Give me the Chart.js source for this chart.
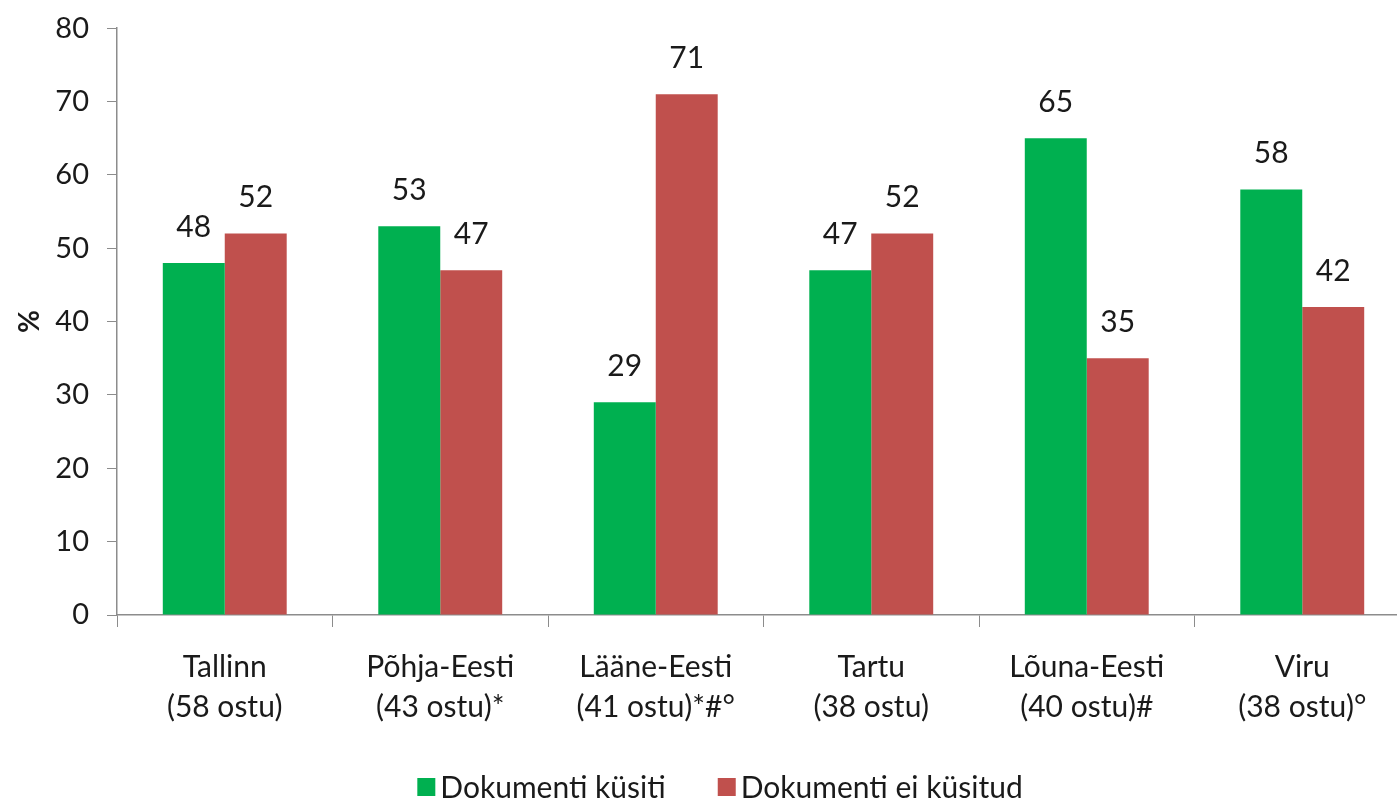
<!DOCTYPE html>
<html>
<head>
<meta charset="utf-8">
<title>Dokumenti küsiti piirkonniti</title>
<script src="https://cdn.jsdelivr.net/npm/chart.js@4.4.1/dist/chart.umd.min.js"></script>
<style>
    html, body { margin: 0; padding: 0; background: #ffffff; overflow: hidden; }
    #chart { display: block; }
</style>
</head>
<body>
<canvas id="chart" width="1440" height="804"></canvas>
<script>
// Chart data
const regions = [
    ['Tallinn', '(58 ostu)'],
    ['Põhja-Eesti', '(43 ostu)*'],
    ['Lääne-Eesti', '(41 ostu)*#°'],
    ['Tartu', '(38 ostu)'],
    ['Lõuna-Eesti', '(40 ostu)#'],
    ['Viru', '(38 ostu)°']
];
const askedValues = [48, 53, 29, 47, 65, 58];
const notAskedValues = [52, 47, 71, 52, 35, 42];
const seriesNames = ['Dokumenti küsiti', 'Dokumenti ei küsitud'];

const fontFamily = 'Lato, "Open Sans", sans-serif';
const textColor = '#1a1a1a';
const axisColor = '#8c8c8c';

// Value labels above each bar
const barLabels = {
    id: 'barLabels',
    afterDatasetsDraw(chart) {
        const ctx = chart.ctx;
        ctx.save();
        ctx.font = '30px ' + fontFamily;
        ctx.fillStyle = textColor;
        ctx.textAlign = 'center';
        ctx.textBaseline = 'bottom';
        chart.data.datasets.forEach((ds, i) => {
            chart.getDatasetMeta(i).data.forEach((bar, j) => {
                ctx.fillText(ds.data[j], bar.x, bar.y - 21);
            });
        });
        ctx.restore();
    }
};

// Legend at the bottom (built from the datasets, wider item spacing than the default one)
const bottomLegend = {
    id: 'bottomLegend',
    afterDraw(chart) {
        const ctx = chart.ctx;
        const box = 18, gap = 5, spacing = 52, y = 787;
        ctx.save();
        ctx.font = '30px ' + fontFamily;
        ctx.textBaseline = 'middle';
        const items = chart.data.datasets.map(ds => ({
            text: ds.label,
            color: ds.backgroundColor,
            w: ctx.measureText(ds.label).width
        }));
        let total = 0;
        items.forEach((it, i) => { total += box + gap + it.w + (i > 0 ? spacing : 0); });
        let x = chart.width / 2 - total / 2;
        items.forEach(it => {
            ctx.fillStyle = it.color;
            ctx.fillRect(x, y - box / 2, box, box);
            ctx.fillStyle = textColor;
            ctx.fillText(it.text, x + box + gap, y + 1);
            x += box + gap + it.w + spacing;
        });
        ctx.restore();
    }
};

new Chart(document.getElementById('chart'), {
    type: 'bar',
    data: {
        labels: regions,
        datasets: [{
            label: seriesNames[0],
            data: askedValues,
            backgroundColor: '#00b050',
            barPercentage: 1,
            categoryPercentage: 0.575
        }, {
            label: seriesNames[1],
            data: notAskedValues,
            backgroundColor: '#c0504d',
            barPercentage: 1,
            categoryPercentage: 0.575
        }]
    },
    options: {
        responsive: false,
        animation: false,
        layout: {
            padding: { top: 20, right: 30, left: 0, bottom: 69 }
        },
        plugins: {
            tooltip: { enabled: false },
            legend: { display: false }
        },
        scales: {
            x: {
                offset: true,
                grid: {
                    offset: true,
                    drawOnChartArea: false,
                    tickLength: 12,
                    color: axisColor
                },
                border: { color: axisColor, width: 1.5 },
                ticks: {
                    color: textColor,
                    font: { family: fontFamily, size: 30, lineHeight: 1.32 },
                    padding: 21,
                    maxRotation: 0
                },
                afterFit(scale) { scale.height = 120; }
            },
            y: {
                min: 0,
                max: 80,
                ticks: {
                    stepSize: 10,
                    color: textColor,
                    font: { family: fontFamily, size: 29, lineHeight: 0.7 },
                    padding: 18
                },
                grid: {
                    drawOnChartArea: false,
                    tickLength: 10,
                    color: axisColor
                },
                border: { color: axisColor, width: 1.5 },
                title: {
                    display: true,
                    text: '%',
                    color: textColor,
                    font: { family: fontFamily, size: 28, weight: 'bold' },
                    padding: { top: 13, bottom: 0 }
                },
                afterFit(scale) { scale.width = 117; }
            }
        }
    },
    plugins: [barLabels, bottomLegend]
});
</script>
</body>
</html>
